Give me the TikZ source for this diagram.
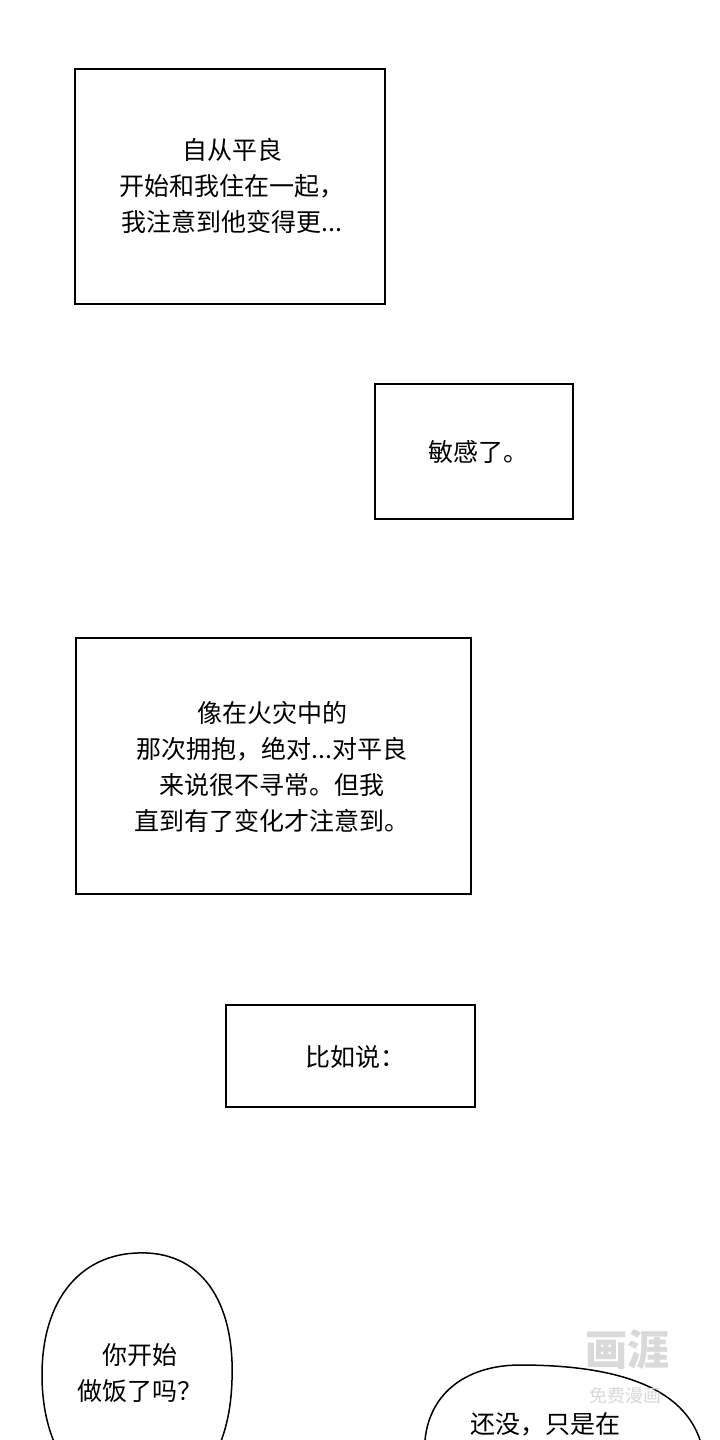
\documentclass[tikz,border=0pt]{standalone}
\usepackage{fontspec}
\newfontfamily\cjk{Noto Sans CJK SC}
\begin{document}
\begin{tikzpicture}[x=1pt,y=-1pt,
  box/.style={draw,line width=1.5pt},
  txt/.style={font=\cjk\fontsize{25}{36}\selectfont,align=center,inner sep=0}]
\useasboundingbox[fill=white] (0,0) rectangle (720,1440);
\draw[box] (75,69) rectangle (385,304);
\node[txt] (t1) at (232,186) {自从平良\\开始和我住在一起，\\我注意到他变得更...};
\draw[box] (375,384) rectangle (573,519);
\node[txt] (t2) at (478,452) {敏感了。};
\draw[box] (76,638) rectangle (471,894);
\node[txt] (t3) at (272,767) {像在火灾中的\\那次拥抱，绝对...对平良\\来说很不寻常。但我\\直到有了变化才注意到。};
\draw[box] (226,1005) rectangle (475,1107);
\node[txt] (t4) at (355,1057) {比如说：};
\draw[line width=1.5pt] (137,1253) .. controls (200,1250) and (235,1300) .. (232,1380)
  .. controls (230,1450) and (200,1500) .. (140,1500)
  .. controls (70,1500) and (42,1440) .. (42,1375)
  .. controls (42,1300) and (80,1255) .. (137,1253);
\node[txt] (t5) at (140,1373) {你开始\\做饭了吗？};
\draw[line width=1.5pt] (425,1440) .. controls (430,1390) and (470,1365) .. (520,1365)
  .. controls (600,1365) and (680,1380) .. (700,1440);
\node[txt] (t6) at (545,1424) {还没，只是在};
\node[font=\cjk\bfseries\fontsize{42}{42}\selectfont,text=black!15] (w1) at (627,1350) {画涯};
\node[font=\cjk\fontsize{18}{18}\selectfont,text=black!15] (w2) at (625,1396) {免费漫画};
\end{tikzpicture}
\end{document}
